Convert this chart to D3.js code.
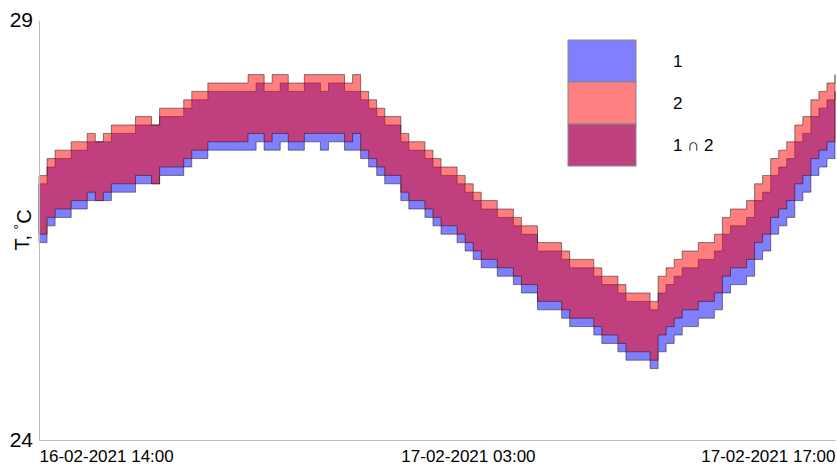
<!DOCTYPE html>
<html>
  <head>
    <meta charset="utf-8">
    <script src="https://d3js.org/d3.v7.min.js"></script>
    <style>
    body {
      margin: 0;
      background: #fff;
    }

    text {
      font-family: "Liberation Sans", Arial, sans-serif;
      fill: #000;
    }

    .axis path {
      stroke: #bbb;
    }
  </style>
  </head>
  <body>
    <svg id="chart" width="837" height="466"></svg>
    <script>
    // series 2 (red) upper / lower edge, deg C, one value per sample
    var hi2 = [27.15, 27.35, 27.45, 27.45, 27.55, 27.55, 27.65, 27.55, 27.65, 27.75,
      27.75, 27.75, 27.85, 27.85, 27.75, 27.95, 27.95, 27.95, 28.05, 28.15,
      28.15, 28.25, 28.25, 28.25, 28.25, 28.25, 28.35, 28.35, 28.25, 28.35,
      28.35, 28.25, 28.25, 28.35, 28.35, 28.35, 28.35, 28.35, 28.25, 28.35,
      28.15, 28.05, 27.95, 27.85, 27.85, 27.65, 27.55, 27.55, 27.45, 27.35,
      27.25, 27.25, 27.15, 27.05, 26.95, 26.85, 26.85, 26.75, 26.75, 26.65,
      26.55, 26.55, 26.35, 26.35, 26.35, 26.25, 26.15, 26.15, 26.15, 26.05,
      25.95, 25.95, 25.85, 25.75, 25.75, 25.75, 25.65, 25.95, 26.05, 26.15,
      26.25, 26.25, 26.35, 26.35, 26.45, 26.65, 26.75, 26.75, 26.85, 27.05,
      27.15, 27.35, 27.45, 27.55, 27.75, 27.85, 28.05, 28.15, 28.25, 28.35];

    var lo2 = [26.45, 26.65, 26.75, 26.75, 26.85, 26.85, 26.95, 26.85, 26.95, 27.05,
      27.05, 27.05, 27.15, 27.15, 27.05, 27.25, 27.25, 27.25, 27.35, 27.45,
      27.45, 27.55, 27.55, 27.55, 27.55, 27.55, 27.65, 27.65, 27.55, 27.65,
      27.65, 27.55, 27.55, 27.65, 27.65, 27.65, 27.65, 27.65, 27.55, 27.65,
      27.45, 27.35, 27.25, 27.15, 27.15, 26.95, 26.85, 26.85, 26.75, 26.65,
      26.55, 26.55, 26.45, 26.35, 26.25, 26.15, 26.15, 26.05, 26.05, 25.95,
      25.85, 25.85, 25.65, 25.65, 25.65, 25.55, 25.45, 25.45, 25.45, 25.35,
      25.25, 25.25, 25.15, 25.05, 25.05, 25.05, 24.95, 25.25, 25.35, 25.45,
      25.55, 25.55, 25.65, 25.65, 25.75, 25.95, 26.05, 26.05, 26.15, 26.35,
      26.45, 26.65, 26.75, 26.85, 27.05, 27.15, 27.35, 27.45, 27.55, 27.65];

    // series 1 (blue) upper / lower edge
    var hi1 = [27.05, 27.25, 27.35, 27.35, 27.45, 27.45, 27.55, 27.55, 27.55, 27.65,
      27.65, 27.65, 27.75, 27.75, 27.75, 27.85, 27.85, 27.85, 27.95, 28.05,
      28.05, 28.15, 28.15, 28.15, 28.15, 28.15, 28.15, 28.25, 28.15, 28.15,
      28.25, 28.15, 28.15, 28.25, 28.25, 28.15, 28.25, 28.25, 28.15, 28.15,
      28.05, 27.95, 27.85, 27.75, 27.75, 27.55, 27.45, 27.45, 27.35, 27.25,
      27.15, 27.15, 27.05, 26.95, 26.85, 26.75, 26.75, 26.65, 26.65, 26.55,
      26.45, 26.45, 26.25, 26.25, 26.25, 26.15, 26.05, 26.05, 26.05, 25.95,
      25.85, 25.85, 25.75, 25.65, 25.65, 25.65, 25.55, 25.75, 25.85, 25.95,
      26.05, 26.05, 26.15, 26.15, 26.25, 26.45, 26.55, 26.55, 26.65, 26.85,
      26.95, 27.15, 27.25, 27.35, 27.55, 27.65, 27.85, 27.95, 28.05, 28.15];

    var lo1 = [26.35, 26.55, 26.65, 26.65, 26.75, 26.75, 26.85, 26.85, 26.85, 26.95,
      26.95, 26.95, 27.05, 27.05, 27.05, 27.15, 27.15, 27.15, 27.25, 27.35,
      27.35, 27.45, 27.45, 27.45, 27.45, 27.45, 27.45, 27.55, 27.45, 27.45,
      27.55, 27.45, 27.45, 27.55, 27.55, 27.45, 27.55, 27.55, 27.45, 27.45,
      27.35, 27.25, 27.15, 27.05, 27.05, 26.85, 26.75, 26.75, 26.65, 26.55,
      26.45, 26.45, 26.35, 26.25, 26.15, 26.05, 26.05, 25.95, 25.95, 25.85,
      25.75, 25.75, 25.55, 25.55, 25.55, 25.45, 25.35, 25.35, 25.35, 25.25,
      25.15, 25.15, 25.05, 24.95, 24.95, 24.95, 24.85, 25.05, 25.15, 25.25,
      25.35, 25.35, 25.45, 25.45, 25.55, 25.75, 25.85, 25.85, 25.95, 26.15,
      26.25, 26.45, 26.55, 26.65, 26.85, 26.95, 27.15, 27.25, 27.35, 27.45];

    var timeTicks = [0, 45, 99];
    var timeLabels = ["16-02-2021 14:00", "17-02-2021 03:00", "17-02-2021 17:00"];
    var tempTicks = [24, 29];
    var legendNames = ["1", "2", "1 \u2229 2"];
    var legendColors = ["#8080ff", "#ff8080", "#bf407f"];

    var svg = d3.select("#chart");

    var x = d3.scaleLinear()
      .domain([0, hi2.length - 1])
      .range([39, 835]);

    var y = d3.scaleLinear()
      .domain([24, 29])
      .range([440, 20]);

    function band(lo, hi) {
      return d3.area()
        .curve(d3.curveStepAfter)
        .x(function (d, i) { return x(i); })
        .y0(function (d, i) { return y(lo[i]); })
        .y1(function (d, i) { return y(hi[i]); });
    }

    svg.append("path")
      .datum(hi1)
      .attr("d", band(lo1, hi1))
      .attr("fill", "rgb(0,0,255)")
      .attr("fill-opacity", 0.5)
      .attr("stroke", "#000")
      .attr("stroke-opacity", 0.45)
      .attr("stroke-width", 1);

    svg.append("path")
      .datum(hi2)
      .attr("d", band(lo2, hi2))
      .attr("fill", "rgb(255,0,0)")
      .attr("fill-opacity", 0.5)
      .attr("stroke", "#000")
      .attr("stroke-opacity", 0.45)
      .attr("stroke-width", 1);

    // axes
    var xAxis = svg.append("g")
      .attr("class", "axis")
      .attr("transform", "translate(0,440)")
      .call(d3.axisBottom(x)
        .tickValues(timeTicks)
        .tickFormat(function (d, i) { return timeLabels[i]; })
        .tickSize(0)
        .tickPadding(10));
    xAxis.selectAll("text")
      .style("font-size", "17px")
      .attr("text-anchor", function (d, i) { return i == timeTicks.length - 1 ? "end" : "start"; });

    var yAxis = svg.append("g")
      .attr("class", "axis")
      .attr("transform", "translate(39,0)")
      .call(d3.axisLeft(y)
        .tickValues(tempTicks)
        .tickFormat(d3.format("d"))
        .tickSize(0)
        .tickPadding(6));
    yAxis.selectAll("text")
      .style("font-size", "21px");

    var ylab = svg.append("text")
      .attr("transform", "translate(29,230) rotate(-90)")
      .attr("text-anchor", "middle")
      .style("font-size", "20px");
    ylab.append("tspan").text("T, ");
    ylab.append("tspan").attr("dy", "-0.35em").style("font-size", "14px").text("\u00B0");
    ylab.append("tspan").attr("dy", "0.35em").text("C");

    // legend
    var legend = svg.append("g")
      .attr("transform", "translate(568,40)");

    legend.selectAll("rect")
      .data(legendNames)
      .enter().append("rect")
      .attr("x", 0)
      .attr("y", function (d, i) { return i * 42; })
      .attr("width", 68)
      .attr("height", 42)
      .attr("fill", function (d, i) { return legendColors[i]; })
      .attr("stroke", "#888")
      .attr("stroke-width", 1);

    legend.selectAll("text")
      .data(legendNames)
      .enter().append("text")
      .attr("x", 105)
      .attr("y", function (d, i) { return i * 42 + 21; })
      .attr("dy", "0.35em")
      .style("font-size", "17px")
      .text(function (d) { return d; });
  </script>
  </body>
</html>
